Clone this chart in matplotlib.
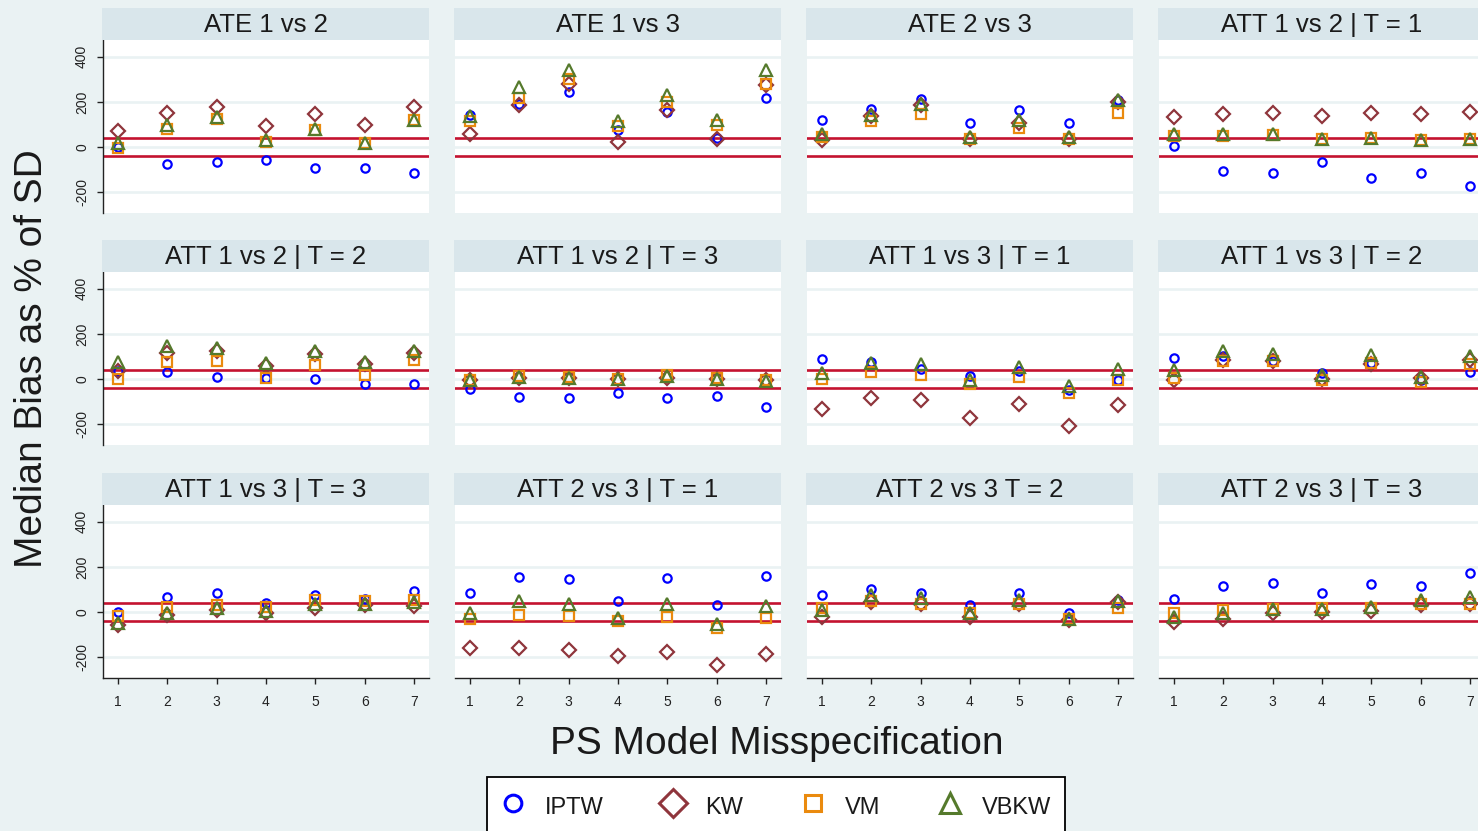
import matplotlib
matplotlib.use('Agg')
import matplotlib.pyplot as plt
from matplotlib.lines import Line2D

plt.rcParams['font.family'] = ['Liberation Sans', 'DejaVu Sans']
plt.rcParams['axes.unicode_minus'] = False

misspec = [1, 2, 3, 4, 5, 6, 7]
panel_titles = ["ATE 1 vs 2", "ATE 1 vs 3", "ATE 2 vs 3", "ATT 1 vs 2 | T = 1",
                "ATT 1 vs 2 | T = 2", "ATT 1 vs 2 | T = 3", "ATT 1 vs 3 | T = 1", "ATT 1 vs 3 | T = 2",
                "ATT 1 vs 3 | T = 3", "ATT 2 vs 3 | T = 1", "ATT 2 vs 3 T = 2", "ATT 2 vs 3 | T = 3"]
y_ticks = [-200, 0, 200, 400]
ref_lines = [-40, 40]
method_names = ["IPTW", "KW", "VM", "VBKW"]

iptw = [
    [0, -77, -67, -59, -96, -92, -118],
    [141, 192, 244, 74, 155, 40, 219],
    [118, 170, 213, 104, 163, 104, 210],
    [4, -108, -118, -67, -138, -118, -175],
    [37, 31, 10, 4, 0, -25, -25],
    [-43, -81, -87, -62, -87, -77, -124],
    [87, 75, 46, 12, 34, -49, -6],
    [93, 101, 81, 27, 71, -7, 31],
    [0, 67, 82, 40, 77, 57, 92],
    [82, 156, 146, 49, 152, 30, 161],
    [77, 101, 82, 30, 82, -3, 52],
    [57, 115, 130, 86, 124, 115, 171],
]
kw = [
    [71, 151, 178, 92, 148, 96, 175],
    [59, 185, 281, 22, 166, 34, 274],
    [30, 136, 185, 33, 104, 37, 200],
    [133, 148, 151, 138, 151, 145, 155],
    [37, 115, 123, 56, 111, 64, 115],
    [-3, 4, 4, 0, 4, 1, -7],
    [-132, -84, -96, -176, -111, -210, -117],
    [-3, 86, 81, 1, 67, 4, 86],
    [-57, -12, 7, -3, 15, 30, 27],
    [-159, -159, -171, -197, -179, -234, -189],
    [-22, 45, 33, -22, 33, -37, 45],
    [-45, -30, -3, 0, 3, 30, 37],
]
vm = [
    [-7, 81, 123, 22, 77, 15, 121],
    [115, 219, 303, 92, 200, 96, 281],
    [44, 114, 148, 33, 86, 36, 151],
    [47, 49, 53, 37, 41, 30, 34],
    [0, 75, 81, 4, 61, 19, 86],
    [-3, 12, 7, 1, 19, 4, -4],
    [1, 31, 19, -25, 7, -62, -7],
    [4, 81, 78, -3, 71, -13, 64],
    [-18, 22, 30, 22, 52, 48, 52],
    [-30, -12, -18, -42, -22, -72, -27],
    [18, 48, 37, -3, 33, -33, 15],
    [-7, 7, 12, 15, 15, 33, 37],
]
vbkw = [
    [15, 96, 133, 30, 81, 18, 118],
    [136, 266, 343, 114, 229, 118, 343],
    [59, 141, 192, 44, 121, 44, 207],
    [55, 55, 55, 37, 40, 30, 37],
    [75, 145, 135, 71, 123, 75, 126],
    [-3, 7, 4, 0, 12, 1, -10],
    [27, 71, 64, -3, 52, -33, 46],
    [41, 126, 111, 19, 108, 7, 101],
    [-48, -3, 18, 3, 37, 37, 45],
    [-3, 48, 33, -27, 33, -52, 27],
    [7, 77, 63, -7, 52, -30, 48],
    [-22, -7, 12, 12, 22, 52, 67],
]

W, H = 1478, 831
bg = '#eaf2f3'
strip_c = '#d9e6eb'
colors = {"IPTW": '#0000ff', "KW": '#8f353c', "VM": '#ea8a0e', "VBKW": '#557a2c'}
markers = {"IPTW": 'o', "KW": 'D', "VM": 's', "VBKW": '^'}
msizes = {"IPTW": 6, "KW": 7.5, "VM": 7.5, "VBKW": 8.5}
red = '#c4122f'

fig = plt.figure(figsize=(W / 100, H / 100), dpi=100, facecolor=bg)

col_left = [103, 455, 807, 1159]
row_top = [40, 272, 505]
pw, ph = 326, 173
strip_h = 32

data = [iptw, kw, vm, vbkw]
for i, title in enumerate(panel_titles):
    r, c = divmod(i, 4)
    x0 = col_left[c]
    y0 = row_top[r]
    ax = fig.add_axes([x0 / W, 1 - (y0 + ph) / H, pw / W, ph / H])
    ax.set_facecolor('white')
    ax.set_xlim(0.7, 7.3)
    ax.set_ylim(-294, 475)
    ax.set_yticks(y_ticks)
    ax.set_xticks(misspec)
    for yt in y_ticks:
        ax.axhline(yt, color=bg, lw=1.9, zorder=0)
    for yl in ref_lines:
        ax.axhline(yl, color=red, lw=1.9, zorder=1)
    for name, vals in zip(method_names, data):
        ax.plot(misspec, vals[i], linestyle='none', marker=markers[name],
                markersize=msizes[name], markerfacecolor='none',
                markeredgecolor=colors[name], markeredgewidth=1.6, zorder=3)
    for s in ['top', 'right']:
        ax.spines[s].set_visible(False)
    ax.spines['left'].set_visible(c == 0)
    ax.spines['bottom'].set_visible(r == 2)
    ax.spines['left'].set_color('#222222')
    ax.spines['bottom'].set_color('#222222')
    ax.spines['left'].set_linewidth(1.0)
    ax.spines['bottom'].set_linewidth(1.0)
    if c == 0:
        ax.tick_params(axis='y', length=4, width=1, color='#222222', labelsize=10, pad=6,
                       labelcolor='#222222')
        for lab in ax.get_yticklabels():
            lab.set_rotation(90)
            lab.set_va('center')
            lab.set_ha('right')
    else:
        ax.tick_params(axis='y', length=0, labelleft=False)
    if r == 2:
        ax.tick_params(axis='x', length=4, width=1, color='#222222', labelsize=10, pad=8,
                       labelcolor='#222222')
    else:
        ax.tick_params(axis='x', length=0, labelbottom=False)
    # strip
    sx = fig.add_axes([(x0 - 1) / W, 1 - y0 / H, (pw + 1) / W, strip_h / H])
    sx.set_facecolor(strip_c)
    sx.set_xticks([])
    sx.set_yticks([])
    for s in sx.spines.values():
        s.set_visible(False)
    sx.text(0.5, 0.48, title, ha='center', va='center', fontsize=18.5, color='#1a1a1a',
            transform=sx.transAxes)

fig.text(777 / W, 1 - 744 / H, "PS Model Misspecification", ha='center', va='center',
         fontsize=28, color='#1a1a1a')
fig.text(32 / W, 1 - 359 / H, "Median Bias as % of SD", ha='center', va='center',
         rotation=90, fontsize=28, color='#1a1a1a')

leg_ms = {"IPTW": 12, "KW": 14, "VM": 12, "VBKW": 15}
handles = [Line2D([], [], linestyle='none', marker=markers[n], markersize=leg_ms[n],
                  markerfacecolor='none', markeredgecolor=colors[n], markeredgewidth=2.2)
           for n in method_names]
leg = fig.legend(handles, method_names, loc='upper center', ncol=4,
                 bbox_to_anchor=(776 / W, 1 - 777 / H), fontsize=17,
                 frameon=True, fancybox=False, edgecolor='black', framealpha=1,
                 handlelength=1.0, handleheight=1.6, handletextpad=0.85, columnspacing=2.45,
                 borderpad=0.6, borderaxespad=0)
leg.get_frame().set_linewidth(1.3)
for t in leg.get_texts():
    t.set_color('#1a1a1a')

fig.savefig('out.png', dpi=100, facecolor=bg)
